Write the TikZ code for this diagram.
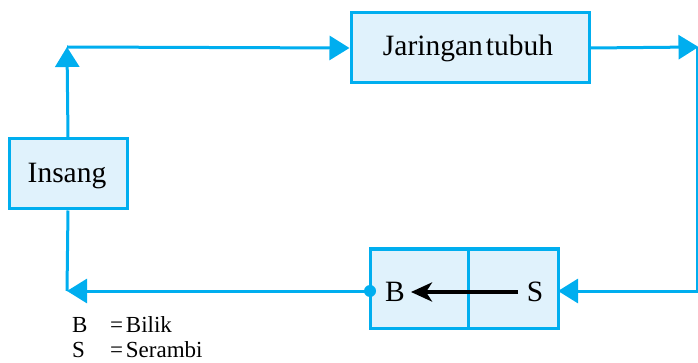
\documentclass[tikz,border=0pt]{standalone}
\usepackage{fontspec}
\setmainfont{Liberation Serif}
\usetikzlibrary{arrows.meta}
\definecolor{cyanline}{HTML}{00AEEF}
\definecolor{boxfill}{HTML}{E0F2FC}
\begin{document}
\begin{tikzpicture}[x=1pt,y=-1pt,
  blk/.style={draw=cyanline,line width=3pt,fill=boxfill,inner sep=0pt},
  flow/.style={draw=cyanline,line width=3pt},
  tri/.style={-{Triangle[length=20pt,width=24pt]}},
  lbl/.style={font=\fontsize{29.5}{32}\selectfont,inner sep=0pt},
  leg/.style={font=\fontsize{23}{26}\selectfont,inner sep=0pt,anchor=base west}]
\useasboundingbox (0,0) rectangle (698,363);
% boxes
\node[blk,minimum width=238pt,minimum height=70pt] (jar) at (470,48) {};
\node[lbl] (jart) at (468,48) {Jaringan\hspace{0.1em}tubuh};
\node[blk,minimum width=118pt,minimum height=70pt] (ins) at (68,174) {};
\node[lbl] (inst) at (67,176) {Insang};
\node[blk,minimum width=98pt,minimum height=79pt] (bb) at (419,288.5) {};
\node[blk,minimum width=90pt,minimum height=79pt] (sb) at (513,288.5) {};
\node[lbl] (bt) at (395,292) {B};
\node[lbl] (st) at (535,292) {S};
% corners
\coordinate (tl) at (67,47);
\coordinate (tr) at (697,47);
\coordinate (br) at (697,291);
\coordinate (bl) at (67,291);
\coordinate (bin) at (370,291);
\coordinate (sin) at (558,291);
% connectors
\draw[flow,tri] (ins.north) -- (tl);
\draw[flow,tri] (tl) -- (jar.west);
\draw[flow,tri,shorten >=-1.5pt] (jar.east) -- (tr);
\draw[flow,tri] (tr) -- (br) -- (sin);
\draw[flow,tri] (bin) -- (bl);
\draw[flow] (bl) -- (ins.south);
\fill[cyanline] (bin) circle (6pt);
\draw[line width=4pt,-{Stealth[length=21pt,width=19pt,inset=6pt]}] (518,292) -- (411,292);
% legend
\node[leg] (lb) at (72,332) {B};
\node[leg] (lbe) at (110,332) {=\hspace{0.12em}Bilik};
\node[leg] (ls) at (72,357) {S};
\node[leg] (lse) at (110,357) {=\hspace{0.12em}Serambi};
\end{tikzpicture}
\end{document}
